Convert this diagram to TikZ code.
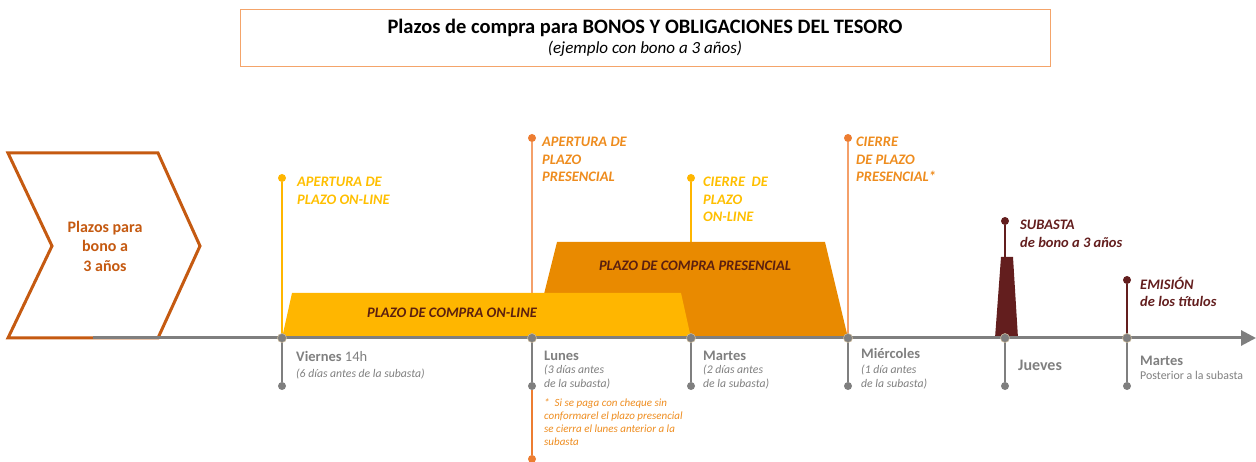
\documentclass[tikz,border=0pt]{standalone}
\usepackage{fontspec}
\setmainfont{Carlito}
\usepackage{tikz}
\usetikzlibrary{positioning,arrows.meta}

\definecolor{chevcol}{HTML}{C55A11}
\definecolor{titlecol}{HTML}{F4A46A}
\definecolor{onlinecol}{HTML}{FFB600}
\definecolor{onlinetxt}{HTML}{FFBF00}
\definecolor{prescol}{HTML}{E98A00}
\definecolor{preslinecol}{HTML}{F4A06A}
\definecolor{presdotcol}{HTML}{ED7D31}
\definecolor{prestxt}{HTML}{EE8C1E}
\definecolor{darkbrown}{HTML}{631E1E}
\definecolor{bandtxt}{HTML}{5B1F0F}
\definecolor{axisgray}{HTML}{7F7F7F}
\definecolor{dotrim}{HTML}{C8B89A}

\tikzset{
  dot/.style={circle, fill=#1, inner sep=0pt, minimum size=8pt},
  axisdot/.style={circle, fill=axisgray, draw=dotrim, line width=0.6pt, inner sep=0pt, minimum size=9pt},
  lbl/.style={anchor=north west, align=left, inner sep=0pt,
    font=\bfseries\itshape\fontsize{14.5}{17.5}\selectfont},
  bandlbl/.style={text=bandtxt, font=\bfseries\itshape\fontsize{14.5}{17}\selectfont},
  daylbl/.style={anchor=north west, align=left, inner sep=0pt, text=axisgray,
    font=\bfseries\fontsize{14.5}{17}\selectfont},
  smalllbl/.style={anchor=north west, align=left, inner sep=0pt, text=axisgray,
    font=\itshape\fontsize{11.7}{14}\selectfont},
  tick/.style={axisgray, line width=2pt},
}

\begin{document}
\begin{tikzpicture}[x=1pt, y=-1pt]
\useasboundingbox (0,0) rectangle (1256,462);

% title
\node[draw=titlecol, line width=1pt, minimum width=810pt, minimum height=57pt] (title) at (645,38.5) {};
\node[font=\bfseries\fontsize{20.5}{24}\selectfont] (titletext) at (645,28)
  {Plazos de compra para BONOS Y OBLIGACIONES DEL TESORO};
\node[font=\itshape\fontsize{17}{20}\selectfont] (subtitle) at (645,49)
  {(ejemplo con bono a 3 años)};

% ticks on the axis
\coordinate (viernes) at (282,338);
\coordinate (lunes)   at (532,338);
\coordinate (martes)  at (691,338);
\coordinate (miercoles) at (848,338);
\coordinate (jueves)  at (1005,338);
\coordinate (martesb) at (1127,338);

% marker dots above the axis
\node[dot=onlinecol]  (aponline) at (282,178) {};
\node[dot=presdotcol] (appres)   at (532,138) {};
\node[dot=onlinecol]  (cionline) at (691,178) {};
\node[dot=presdotcol] (cipres)   at (848,138) {};
\node[dot=darkbrown]  (subasta)  at (1005,221) {};
\node[dot=darkbrown]  (emision)  at (1127,280) {};

\draw[onlinecol, line width=2pt] (aponline) -- (viernes);
\draw[preslinecol, line width=2pt] (appres) -- (lunes);
\draw[onlinecol, line width=2pt] (cionline) -- (martes);
\draw[preslinecol, line width=2pt] (cipres) -- (miercoles);
\draw[darkbrown, line width=2pt] (subasta) -- (jueves);
\draw[darkbrown, line width=2pt] (emision) -- (martesb);

% purchase periods
\fill[prescol] (533,338) -- (557,242) -- (825,242) -- (848,338) -- cycle;
\fill[onlinecol] (282,338) -- (292,293) -- (681,293) -- (691,338) -- cycle;
\fill[darkbrown] (995,338) -- (1001,257) -- (1013,257) -- (1018,338) -- cycle;
\node[bandlbl] (presband) at (695,266) {PLAZO DE COMPRA PRESENCIAL};
\node[bandlbl] (onband) at (452,313) {PLAZO DE COMPRA ON-LINE};

% chevron
\draw[chevcol, line width=3pt, line join=miter, fill=white]
  (8,153) -- (158,153) -- (200,246) -- (158,338) -- (8,338) -- (52,246) -- cycle;
\node[text=chevcol, align=center, font=\bfseries\fontsize{16}{19.5}\selectfont] (chev) at (105,246)
  {Plazos para\\bono a\\3 años};

% axis
\draw[axisgray, line width=3pt, -{Triangle[length=15pt,width=15pt]}] (93,338) -- (1256,338);

% labels of the markers
\node[lbl, text=onlinetxt] (laponline) at (297,177) {APERTURA DE\\PLAZO ON-LINE};
\node[lbl, text=prestxt]   (lappres)   at (542,137) {APERTURA DE\\PLAZO\\PRESENCIAL};
\node[lbl, text=onlinetxt] (lcionline) at (703,177) {CIERRE\ \ DE\\PLAZO\\ON-LINE};
\node[lbl, text=prestxt]   (lcipres)   at (856,137) {CIERRE\\DE PLAZO\\PRESENCIAL*};
\node[lbl, text=darkbrown] (lsubasta)  at (1020,220) {SUBASTA\\de bono a 3 años};
\node[lbl, text=darkbrown] (lemision)  at (1140,277) {EMISIÓN\\de los títulos};

% ticks below the axis
\foreach \t in {viernes,lunes,martes,miercoles,jueves,martesb} {
  \node[dot=axisgray] (\t-end) at ([yshift=-48pt]\t) {};
  \draw[tick] (\t) -- (\t-end);
  \node[axisdot] at (\t) {};
}
\node[dot=presdotcol] (nota-end) at (532,459) {};
\draw[presdotcol, line width=2pt] (lunes-end) -- (nota-end);

% day labels
\node[daylbl] (dviernes) at (296,351.5) {Viernes {\mdseries 14h}};
\node[smalllbl] at (296,369) {(6 días antes de la subasta)};
\node[daylbl] (dlunes) at (544,350.5) {Lunes};
\node[smalllbl] at (544,365) {(3 días antes\\de la subasta)};
\node[daylbl] (dmartes) at (703,350.5) {Martes};
\node[smalllbl] at (703,365) {(2 días antes\\de la subasta)};
\node[daylbl] (dmiercoles) at (861,348.5) {Miércoles};
\node[smalllbl] at (861,365) {(1 día antes\\de la subasta)};
\node[daylbl, font=\bfseries\fontsize{16}{19}\selectfont] (djueves) at (1018,360) {Jueves};
\node[daylbl] (dmartesb) at (1140,356) {Martes};
\node[smalllbl, font=\fontsize{11.9}{14}\selectfont] at (1140,371) {Posterior a la subasta};

% footnote
\node[anchor=north west, align=left, inner sep=0pt, text=prestxt,
      font=\itshape\fontsize{11}{13.3}\selectfont] (nota) at (544,398)
  {*\ \ Si se paga con cheque sin\\conformarel el plazo presencial\\se cierra el lunes anterior a la\\subasta};
\end{tikzpicture}
\end{document}
